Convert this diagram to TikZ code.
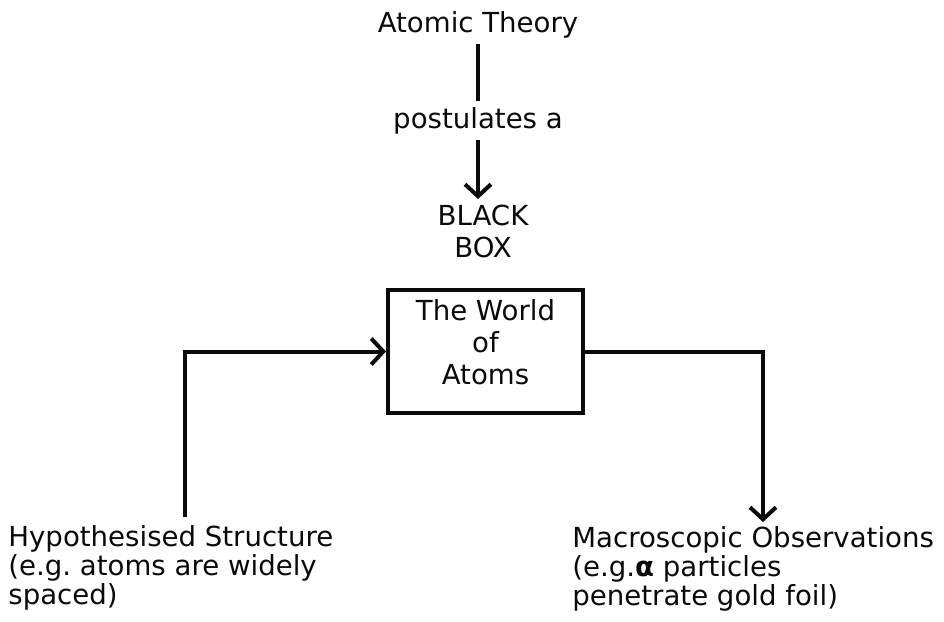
\documentclass[tikz,border=0pt]{standalone}
\usepackage{fontspec}
\setmainfont{DejaVu Sans}
\usetikzlibrary{arrows.meta,positioning}
\definecolor{ink}{HTML}{0A0A0A}
\tikzset{
  base/.style={font=\fontsize{13.8}{14.5}\selectfont,text=ink,inner sep=3pt},
  title/.style={base,align=center},
  caption/.style={base,align=left,anchor=north west,inner sep=0pt},
  world/.style={base,align=center,draw=ink,line width=2pt,minimum width=97.5pt,minimum height=61.5pt,font=\fontsize{13.8}{16}\selectfont},
  link/.style={line width=2pt,draw=ink},
  flow/.style={link,-{Straight Barb[length=6pt,width=13pt]}}
}

\begin{document}
\begin{tikzpicture}[x=0.5pt,y=-0.5pt]
\useasboundingbox (0,0) rectangle (944,622);
\node[title,anchor=base] (theory) at (478,32) {Atomic Theory};
\node[title,anchor=base] (post) at (478,128) {postulates a};
\node[title,anchor=north,font=\fontsize{13.8}{16}\selectfont] (blackbox) at (483,199) {BLACK\\BOX};

\node[world] (atoms) at (485.5,351.5) {The World\\of\\Atoms\rule[-9pt]{0pt}{9pt}};

\node[caption] (hypo) at (8,525) {Hypothesised Structure\\(e.g.\ atoms are widely\\spaced)};
\node[caption] (obs) at (572,526) {Macroscopic Observations\\(e.g.\textbf{α} particles\\penetrate gold foil)};
\coordinate (hypoTop) at (185,517);
\coordinate (obsTop) at (763,522);

\draw[link] (theory) -- (post);
\draw[flow] (post.south) -- (post.south |- blackbox.north);
\draw[flow] (hypoTop) |- (atoms.west);
\draw[flow] (atoms.east) -| (obsTop);
\end{tikzpicture}
\end{document}
